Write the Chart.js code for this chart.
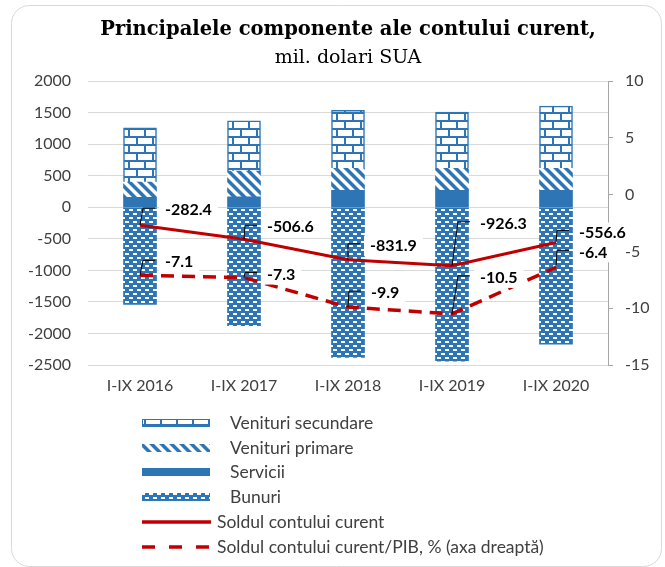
<!DOCTYPE html>
<html>
<head>
<meta charset="utf-8">
<script src="https://cdn.jsdelivr.net/npm/chart.js@4.4.1/dist/chart.umd.min.js"></script>
<style>
  html, body { margin: 0; padding: 0; background: #fff; }
  canvas { display: block; }
</style>
</head>
<body>
<canvas id="contChart" width="665" height="567"></canvas>
<script>
// date (mil. dolari SUA)
const categories = ['I-IX 2016', 'I-IX 2017', 'I-IX 2018', 'I-IX 2019', 'I-IX 2020'];
const venituriSecundare = [860, 795, 920, 890, 985];
const venituriPrimare = [240, 410, 350, 350, 350];
const servicii = [160, 165, 270, 270, 270];
const bunuri = [-1540, -1875, -2380, -2440, -2170];
const soldCurent = [-282.4, -506.6, -831.9, -926.3, -556.6];
const soldPib = [-7.1, -7.3, -9.9, -10.5, -6.4];

// pozitia etichetelor fata de punct (dx, dy)
const soldLabelPos = [[25, -15], [23, -12], [22, -14], [28, -42], [23, -10]];
const pibLabelPos = [[25, -13], [23, -3], [23, -14], [28, -36], [23, -15]];

const BLUE = '#2e75b6';
const RED = '#c00000';
const TICK_FONT = { family: 'Lato', size: 16 };

function makePattern(w, h, draw) {
    const c = document.createElement('canvas');
    c.width = w;
    c.height = h;
    const g = c.getContext('2d');
    draw(g);
    return g.createPattern(c, 'repeat');
}

const brick = makePattern(16, 16, g => {
    g.fillStyle = '#fff';
    g.fillRect(0, 0, 16, 16);
    g.fillStyle = BLUE;
    g.fillRect(0, 0, 16, 2);
    g.fillRect(0, 8, 16, 2);
    g.fillRect(0, 2, 2, 6);
    g.fillRect(8, 10, 2, 6);
});

const stripes = makePattern(10, 10, g => {
    g.fillStyle = BLUE;
    g.fillRect(0, 0, 10, 10);
    g.fillStyle = '#fff';
    g.beginPath();
    g.moveTo(0, 0); g.lineTo(5, 0); g.lineTo(10, 5); g.lineTo(10, 10);
    g.closePath();
    g.fill();
    g.beginPath();
    g.moveTo(0, 5); g.lineTo(5, 10); g.lineTo(0, 10);
    g.closePath();
    g.fill();
});

const dashes = makePattern(8, 8, g => {
    g.fillStyle = BLUE;
    g.fillRect(0, 0, 8, 8);
    g.fillStyle = '#fff';
    g.fillRect(1, 1, 4, 2);
    g.fillRect(5, 5, 3, 2);
    g.fillRect(0, 5, 1, 2);
});

const framePlugin = {
    id: 'frame',
    beforeDraw(chart) {
        const c = chart.ctx;
        c.save();
        c.fillStyle = '#fff';
        c.fillRect(0, 0, chart.width, chart.height);
        c.strokeStyle = '#d9d9d9';
        c.lineWidth = 1;
        c.beginPath();
        c.roundRect(11.5, 5.5, 650, 561, 18);
        c.stroke();
        c.restore();
    }
};

const labelPlugin = {
    id: 'pointLabels',
    afterDatasetsDraw(chart) {
        const c = chart.ctx;
        c.save();
        c.font = 'bold 16px Lato';
        c.textBaseline = 'middle';
        [[4, soldLabelPos], [5, pibLabelPos]].forEach(([di, offs]) => {
            const meta = chart.getDatasetMeta(di);
            const values = chart.data.datasets[di].data;
            meta.data.forEach((pt, i) => {
                const dx = offs[i][0], dy = offs[i][1];
                const tx = pt.x + dx, ty = pt.y + dy;
                const txt = values[i].toFixed(1);
                const w = c.measureText(txt).width;
                c.fillStyle = '#fff';
                c.fillRect(tx - 6, ty - 10, w + 12, 20);
                c.strokeStyle = '#000';
                c.lineWidth = 1;
                c.beginPath();
                c.moveTo(pt.x, pt.y);
                c.lineTo(pt.x + dx - 22, ty - 2);
                c.lineTo(tx - 10, ty - 2);
                c.stroke();
                c.fillStyle = '#000';
                c.fillText(txt, tx, ty);
            });
        });
        c.restore();
    }
};

// legenda verticala, sub grafic
const legendPlugin = {
    id: 'vertLegend',
    afterDraw(chart) {
        const c = chart.ctx;
        const order = [3, 2, 1, 0, 4, 5];
        c.save();
        c.font = '17.5px Lato';
        c.textBaseline = 'middle';
        order.forEach((di, k) => {
            const ds = chart.data.datasets[di];
            const y = Math.round(423 + k * 24.7);
            if (ds.type === 'bar') {
                c.fillStyle = ds.backgroundColor;
                c.fillRect(142, y - 4, 68, 8);
                if (ds.borderWidth) {
                    c.strokeStyle = ds.borderColor;
                    c.lineWidth = 1;
                    c.strokeRect(142.5, y - 3.5, 67, 7);
                }
                c.fillStyle = '#404040';
                c.fillText(ds.label, 230, y);
            } else {
                c.strokeStyle = ds.borderColor;
                c.lineWidth = 3.5;
                c.setLineDash(ds.borderDash ? [13, 14] : []);
                c.beginPath();
                c.moveTo(142, y);
                c.lineTo(211, y);
                c.stroke();
                c.setLineDash([]);
                c.fillStyle = '#404040';
                c.fillText(ds.label, 217, y);
            }
        });
        c.restore();
    }
};

const ctx = document.getElementById('contChart');

new Chart(ctx, {
    data: {
        labels: categories,
        datasets: [
            { type: 'bar', label: 'Bunuri', data: bunuri, backgroundColor: dashes, barThickness: 33, order: 1 },
            { type: 'bar', label: 'Servicii', data: servicii, backgroundColor: BLUE, barThickness: 33, order: 1 },
            { type: 'bar', label: 'Venituri primare', data: venituriPrimare, backgroundColor: stripes, barThickness: 33, order: 1 },
            { type: 'bar', label: 'Venituri secundare', data: venituriSecundare, backgroundColor: brick,
              borderColor: BLUE, borderWidth: 1.5, barThickness: 33, order: 1 },
            { type: 'line', label: 'Soldul contului curent', data: soldCurent, borderColor: RED,
              borderWidth: 3, pointRadius: 0, yAxisID: 'y', stack: 'l1', order: 0 },
            { type: 'line', label: 'Soldul contului curent/PIB, % (axa dreaptă)', data: soldPib, borderColor: RED,
              borderWidth: 3.5, borderDash: [13, 8], pointRadius: 0, yAxisID: 'y2', stack: 'l2', order: 0 }
        ]
    },
    options: {
        responsive: false,
        animation: false,
        devicePixelRatio: 1,
        layout: { padding: { top: 0, left: 0, right: 0, bottom: 172 } },
        plugins: {
            legend: { display: false },
            tooltip: { enabled: false },
            title: {
                display: true,
                fullSize: false,
                text: 'Principalele componente ale contului curent,',
                font: { family: 'DejaVu Serif', size: 19.5, weight: 'bold' },
                color: '#000',
                padding: { top: 18, bottom: 0 }
            },
            subtitle: {
                display: true,
                fullSize: false,
                text: 'mil. dolari SUA',
                font: { family: 'DejaVu Serif', size: 19 },
                color: '#000',
                padding: { top: 5, bottom: 12 }
            }
        },
        scales: {
            x: {
                stacked: true,
                grid: { display: false },
                border: { display: false },
                ticks: { font: TICK_FONT, color: '#404040', padding: 3 },
                afterFit: s => { s.height = 30; }
            },
            y: {
                stacked: true,
                min: -2500,
                max: 2000,
                ticks: { stepSize: 500, font: TICK_FONT, color: '#404040', padding: 17, callback: v => String(v) },
                grid: { color: '#d9d9d9', drawTicks: false },
                border: { display: false },
                afterFit: s => { s.width = 88; }
            },
            y2: {
                position: 'right',
                min: -15,
                max: 10,
                ticks: { stepSize: 5, font: TICK_FONT, color: '#404040', padding: 12 },
                grid: { drawOnChartArea: false, color: '#a6a6a6', tickLength: 5 },
                border: { display: true, color: '#a6a6a6' },
                afterFit: s => { s.width = 57; }
            }
        }
    },
    plugins: [framePlugin, labelPlugin, legendPlugin]
});
</script>
</body>
</html>
